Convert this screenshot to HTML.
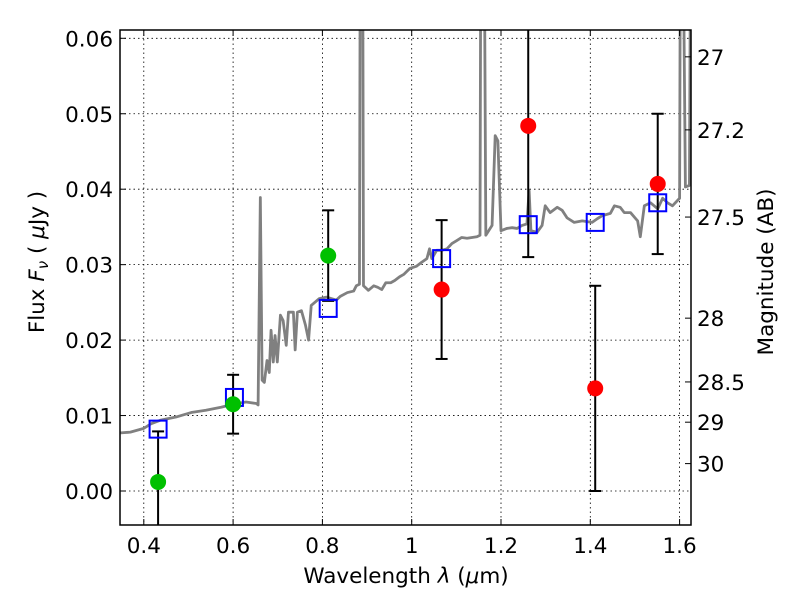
<!DOCTYPE html>
<html><head><meta charset="utf-8"><style>
body{margin:0;background:#fff;}
svg{display:block;font-family:"DejaVu Sans","Liberation Sans",sans-serif;}
</style></head><body>
<svg id="chart" width="800" height="600" xmlns="http://www.w3.org/2000/svg">
<defs><clipPath id="clip"><rect x="120" y="30" width="571" height="495"/></clipPath></defs>
<g id="grid"></g>
<g id="spec" clip-path="url(#clip)"></g>
<g id="marks" clip-path="url(#clip)"></g>
<rect x="120" y="30" width="571" height="495" fill="none" stroke="#000" stroke-width="1.5"/>
<g id="axes"></g>
<text x="406" y="583" font-size="21.5" text-anchor="middle">Wavelength  <tspan font-style="italic">λ</tspan> (<tspan font-style="italic">μ</tspan>m)</text>
<text transform="translate(44,262) rotate(-90)" font-size="21.5" text-anchor="middle">Flux  <tspan font-style="italic">F<tspan font-size="15" dy="4">ν</tspan></tspan><tspan dy="-4">  (  </tspan><tspan font-style="italic">μ</tspan>Jy )</text>
<text transform="translate(773,272) rotate(-90)" font-size="21.5" text-anchor="middle">Magnitude (AB)</text>
</svg>
<script>
const specWave=[0.348,0.370,0.400,0.416,0.438,0.472,0.506,0.539,0.573,0.600,0.629,0.652,0.656,0.661,0.665,0.670,0.676,0.681,0.685,0.690,0.694,0.699,0.706,0.712,0.719,0.724,0.735,0.739,0.744,0.753,0.762,0.769,0.775,0.793,0.809,0.820,0.831,0.840,0.856,0.870,0.876,0.883,0.885,0.890,0.892,0.903,0.915,0.924,0.933,0.942,0.953,0.962,0.973,0.982,0.996,1.011,1.022,1.034,1.040,1.045,1.056,1.067,1.079,1.090,1.101,1.112,1.124,1.146,1.153,1.155,1.162,1.166,1.180,1.187,1.193,1.200,1.213,1.225,1.236,1.247,1.258,1.263,1.267,1.281,1.292,1.299,1.310,1.326,1.337,1.348,1.364,1.382,1.404,1.416,1.427,1.445,1.454,1.467,1.476,1.490,1.506,1.512,1.521,1.535,1.551,1.562,1.573,1.584,1.600,1.602,1.607,1.613,1.622,1.625,1.629];
const specFlux=[0.0077,0.0078,0.0083,0.0089,0.0094,0.0098,0.0104,0.0107,0.0111,0.0115,0.0118,0.0116,0.0114,0.0389,0.0147,0.0144,0.0173,0.0157,0.0213,0.0171,0.0206,0.0171,0.0233,0.0226,0.0193,0.0237,0.0237,0.0187,0.0237,0.0239,0.0220,0.0200,0.0246,0.0255,0.0257,0.0255,0.0253,0.0258,0.0263,0.0265,0.0272,0.0274,0.08,0.08,0.0272,0.0266,0.0272,0.0270,0.0267,0.0276,0.0276,0.0279,0.0284,0.0287,0.0295,0.0298,0.0303,0.0308,0.0321,0.0308,0.0319,0.0319,0.0321,0.0328,0.0332,0.0336,0.0335,0.0337,0.0339,0.08,0.08,0.0339,0.0352,0.0471,0.0464,0.0345,0.0348,0.0349,0.0348,0.0352,0.0354,0.0398,0.0345,0.0343,0.0352,0.0378,0.0369,0.0376,0.0372,0.0362,0.0356,0.0358,0.0356,0.0361,0.0365,0.0368,0.0378,0.0376,0.0369,0.0369,0.0358,0.0337,0.0378,0.0382,0.0374,0.0388,0.0382,0.0378,0.0388,0.08,0.08,0.0403,0.0405,0.08,0.08];
const modelWave=[0.432,0.603,0.813,1.067,1.261,1.411,1.551];
const modelFlux=[0.0082,0.0124,0.0242,0.0308,0.0353,0.0356,0.0382];
const detWave=[0.432,0.600,0.813];
const detFlux=[0.0012,0.0115,0.0312];
const detErr=[0.0067,0.0039,0.0060];
const lowWave=[1.067,1.261,1.411,1.551];
const lowFlux=[0.0267,0.0484,0.0136,0.0407];
const lowErr=[0.0092,0.0174,0.0136,0.0093];
const xTicks=[0.4,0.6,0.8,1.0,1.2,1.4,1.6];
const xTickLabels=["0.4","0.6","0.8","1","1.2","1.4","1.6"];
const yTicks=[0,0.01,0.02,0.03,0.04,0.05,0.06];
const yTickLabels=["0.00","0.01","0.02","0.03","0.04","0.05","0.06"];
const magTicks=[27,27.2,27.5,28,28.5,29,30];
const magTickLabels=["27","27.2","27.5","28","28.5","29","30"];

const NS="http://www.w3.org/2000/svg";
const X=v=>143.8+(v-0.4)*446.5;
const Y=v=>491-v*7545;
function mk(tag,parent,attrs){const e=document.createElementNS(NS,tag);for(const k in attrs)e.setAttribute(k,attrs[k]);parent.appendChild(e);return e;}
const grid=document.getElementById('grid'),axes=document.getElementById('axes'),spec=document.getElementById('spec'),marks=document.getElementById('marks');
xTicks.forEach((t,i)=>{
  const g=mk('line',grid,{x1:X(t),x2:X(t),y1:30,y2:525,stroke:'#000','stroke-width':0.8,'stroke-dasharray':'1.5,3'});
  
  
  mk('line',axes,{x1:X(t),x2:X(t),y1:525,y2:519,stroke:'#000'});
  mk('line',axes,{x1:X(t),x2:X(t),y1:30,y2:36,stroke:'#000'});
  const l=mk('text',axes,{x:X(t),y:553,'font-size':21.5,'text-anchor':'middle'});l.textContent=xTickLabels[i];
  
  
});
yTicks.forEach((t,i)=>{
  const g=mk('line',grid,{x1:120,x2:691,y1:Y(t),y2:Y(t),stroke:'#000','stroke-width':0.8,'stroke-dasharray':'1.5,3'});
  
  
  mk('line',axes,{x1:120,x2:126,y1:Y(t),y2:Y(t),stroke:'#000'});
  const l=mk('text',axes,{x:113,y:Y(t)+8,'font-size':21.5,'text-anchor':'end'});l.textContent=yTickLabels[i];
  
  
});
magTicks.forEach((m,i)=>{
  const f=Math.pow(10,(23.9-m)/2.5);
  mk('line',axes,{x1:685,x2:691,y1:Y(f),y2:Y(f),stroke:'#000'});
  const l=mk('text',axes,{x:697,y:Y(f)+8,'font-size':21.5});l.textContent=magTickLabels[i];
  
  
});
const p=mk('polyline',spec,{points:specWave.map((w,i)=>X(w)+','+Y(specFlux[i])).join(' '),fill:'none',stroke:'#808080','stroke-width':2.8,'stroke-linejoin':'round'});


function err(w,f,e){
  mk('line',marks,{x1:X(w),x2:X(w),y1:Y(f+e),y2:Y(f-e),stroke:'#000','stroke-width':2});
  mk('line',marks,{x1:X(w)-6,x2:X(w)+6,y1:Y(f+e),y2:Y(f+e),stroke:'#000','stroke-width':2});
  mk('line',marks,{x1:X(w)-6,x2:X(w)+6,y1:Y(f-e),y2:Y(f-e),stroke:'#000','stroke-width':2});
}
detWave.forEach((w,i)=>{err(w,detFlux[i],detErr[i]);});
lowWave.forEach((w,i)=>{err(w,lowFlux[i],lowErr[i]);});
modelWave.forEach((w,i)=>{
  const r=mk('rect',marks,{x:X(w)-8.5,y:Y(modelFlux[i])-8.5,width:17,height:17,fill:'none',stroke:'#0000ff','stroke-width':2});
  
  
});
detWave.forEach((w,i)=>{
  const c=mk('circle',marks,{cx:X(w),cy:Y(detFlux[i]),r:8,fill:'#00c000'});
  
  
});
lowWave.forEach((w,i)=>{
  const c=mk('circle',marks,{cx:X(w),cy:Y(lowFlux[i]),r:8,fill:'#ff0000'});
  
  
});
</script>
</body></html>
